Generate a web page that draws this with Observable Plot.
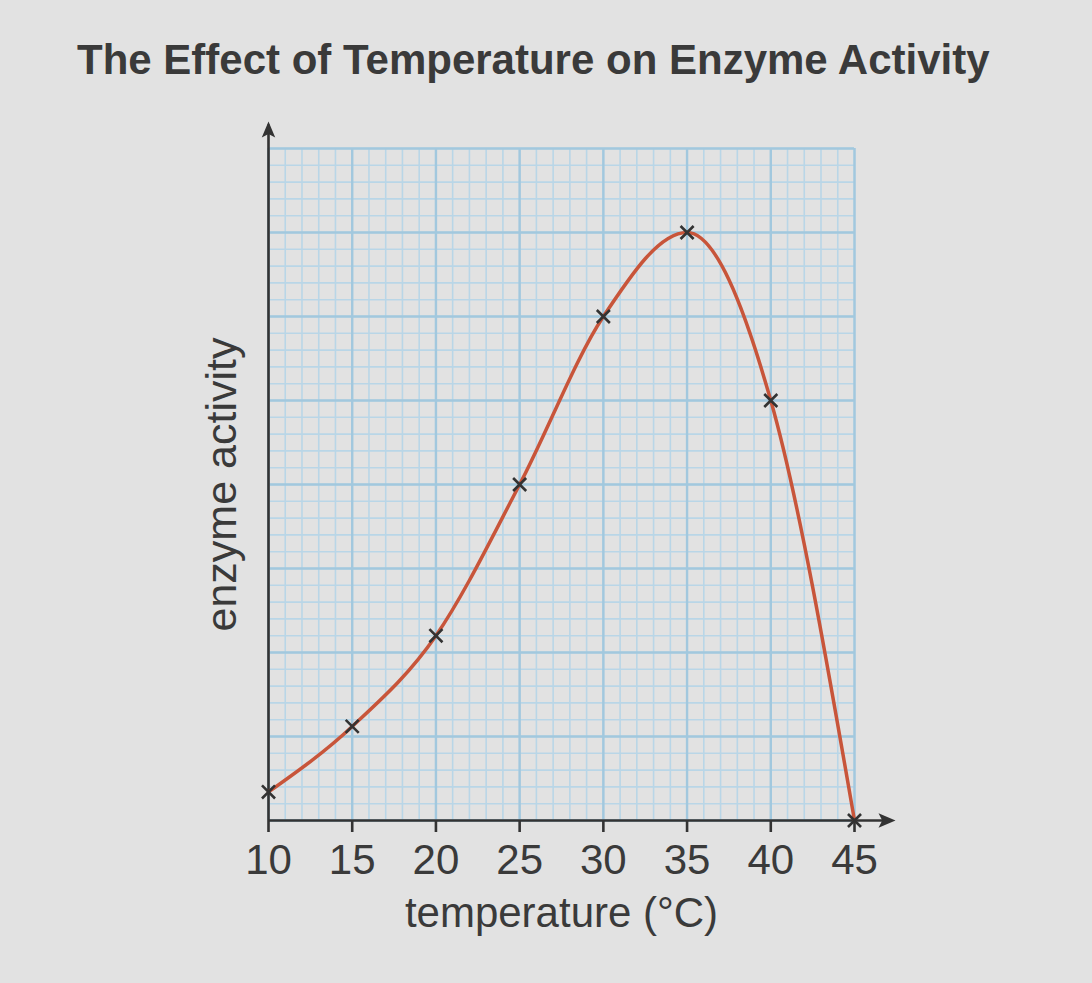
<!DOCTYPE html>
<html>
<head>
<meta charset="utf-8">
<script src="https://cdn.jsdelivr.net/npm/d3@7"></script>
<script src="https://cdn.jsdelivr.net/npm/@observablehq/plot@0.6"></script>
<style>
  html, body { margin: 0; padding: 0; background: #e2e2e2; }
  body { width: 1092px; height: 983px; overflow: hidden; font-family: "Liberation Sans", Arial, sans-serif; }
  #title {
    box-sizing: border-box; height: 110px; margin: 0; padding: 39px 0 0 77px;
    font-size: 42px; line-height: 42px; font-weight: bold; color: #3a3a3a; white-space: nowrap;
  }
  #chart svg { display: block; }
</style>
</head>
<body>
<h1 id="title">The Effect of Temperature on Enzyme Activity</h1>
<div id="chart"></div>
<script>
// Measured enzyme activity (in grid squares) at each temperature
const temperature = [10, 15, 20, 25, 30, 35, 40, 45];
const activity = [1.7, 5.6, 11, 20, 30, 35, 25, 0];
const tempTicks = [10, 15, 20, 25, 30, 35, 40, 45];
const xLabel = "temperature (°C)";
const yLabel = "enzyme activity";

const points = temperature.map((t, i) => ({temperature: t, activity: activity[i]}));

// graph-paper grid: a fine line every unit, a stronger one every five
const xMinor = d3.range(10, 46, 1);
const yMinor = d3.range(0, 41, 1);
const xMajor = xMinor.filter(d => d % 5 === 0);
const yMajor = yMinor.filter(d => d % 5 === 0);

// filled arrowhead with a notched back, tip at the origin, pointing right
const arrowHead = {
  draw(context, size) {
    const L = Math.sqrt(size / Math.PI);
    const W = L * 0.42;
    context.moveTo(0, 0);
    context.lineTo(-L, -W);
    context.lineTo(-L * 0.78, 0);
    context.lineTo(-L, W);
    context.closePath();
  }
};

const ink = "#333333";

const chart = Plot.plot({
  width: 1092,
  height: 873,
  marginLeft: 268,
  marginRight: 238,
  marginTop: 38,
  marginBottom: 163,
  x: {domain: [10, 45]},
  y: {domain: [0, 40], axis: null},
  style: {background: "transparent", fontFamily: "'Liberation Sans', Arial, sans-serif", color: "#3a3a3a", overflow: "visible"},
  marks: [
    Plot.ruleX(xMinor, {stroke: "#b9d6e7", strokeWidth: 1.6}),
    Plot.ruleY(yMinor, {stroke: "#b9d6e7", strokeWidth: 1.6}),
    Plot.ruleX(xMajor, {stroke: "#a2c8de", strokeWidth: 2.4}),
    Plot.ruleY(yMajor, {stroke: "#a2c8de", strokeWidth: 2.4}),
    // axes with arrowheads
    Plot.ruleY([0], {x1: 10, x2: 47.2, stroke: ink, strokeWidth: 2.6}),
    Plot.ruleX([10], {y1: 0, y2: 41.4, stroke: ink, strokeWidth: 2.6}),
    Plot.dot([{x: 47.45, y: 0}], {x: "x", y: "y", symbol: arrowHead, r: 17, fill: ink, stroke: "none"}),
    Plot.dot([{x: 10, y: 41.6}], {x: "x", y: "y", symbol: arrowHead, r: 16, rotate: -90, fill: ink, stroke: "none"}),
    Plot.axisX(tempTicks, {tickSize: 12, tickPadding: 12, fontSize: 42, strokeWidth: 2.6, stroke: ink, fill: "#3a3a3a", label: null}),
    Plot.text([xLabel], {frameAnchor: "bottom", dy: 106, fontSize: 42, fill: "#3a3a3a"}),
    Plot.text([yLabel], {frameAnchor: "left", textAnchor: "middle", rotate: -90, dx: -46, fontSize: 43, fill: "#3a3a3a"}),
    // activity curve and measured points
    Plot.line(points, {x: "temperature", y: "activity", curve: "monotone-x", stroke: "#c8553a", strokeWidth: 3.5}),
    Plot.dot(points, {x: "temperature", y: "activity", symbol: "times", r: 6, stroke: ink, strokeWidth: 2.6})
  ]
});

document.getElementById("chart").appendChild(chart);
</script>
</body>
</html>
